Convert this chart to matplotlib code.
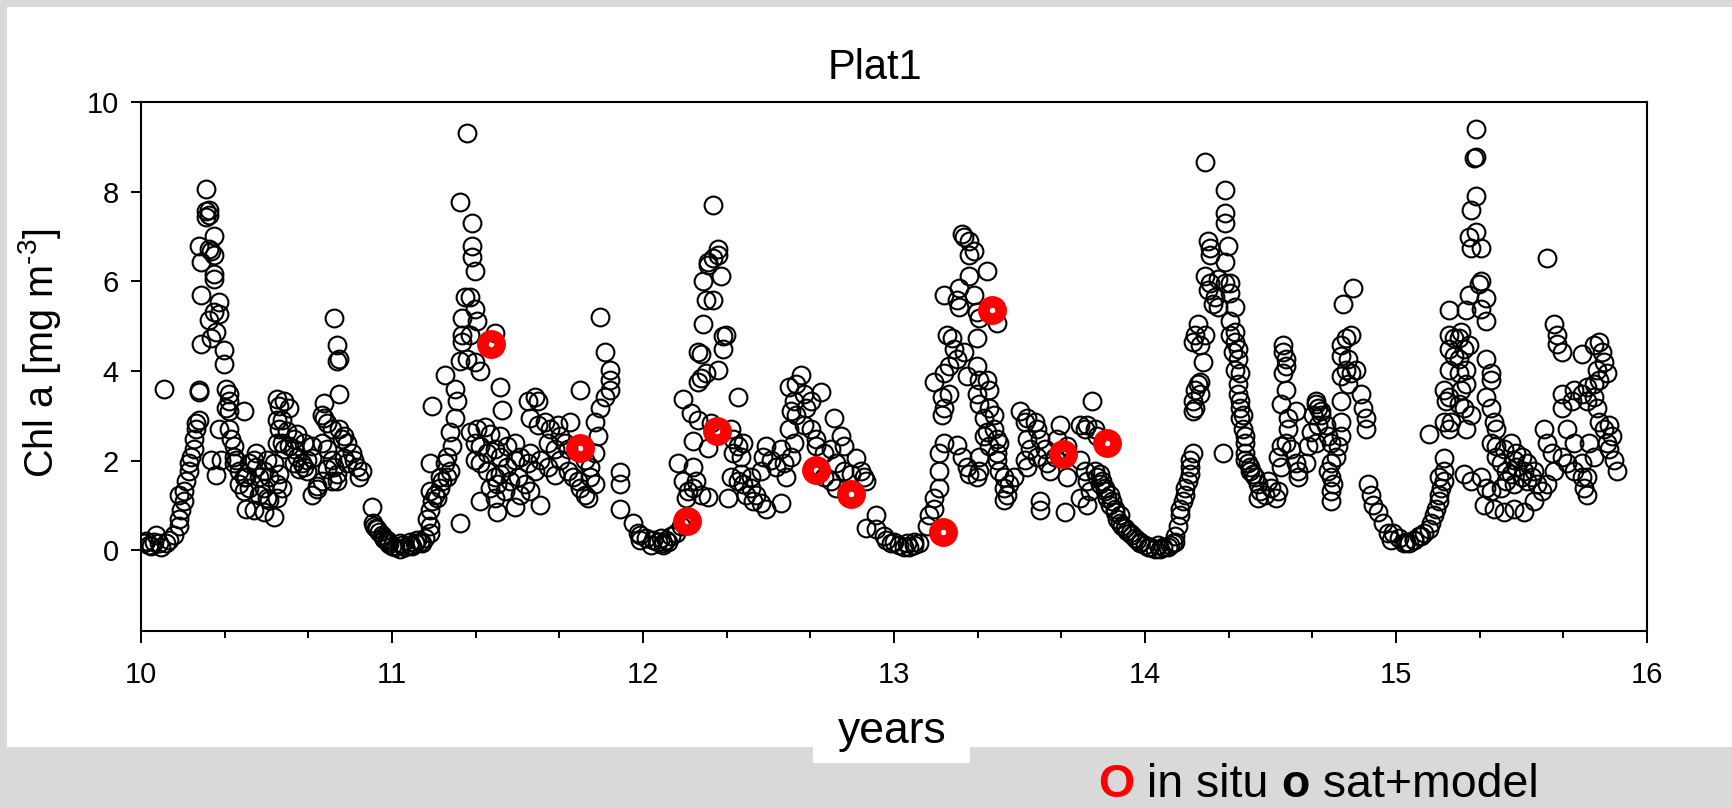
import matplotlib
matplotlib.use('Agg')
import matplotlib.pyplot as plt
from matplotlib.ticker import MultipleLocator, FixedLocator
from matplotlib.patches import Rectangle

plt.rcParams['font.family'] = ['Liberation Sans', 'DejaVu Sans']
plt.rcParams['mathtext.fontset'] = 'custom'
plt.rcParams['mathtext.rm'] = 'Liberation Sans'
plt.rcParams['mathtext.it'] = 'Liberation Sans:italic'
plt.rcParams['mathtext.default'] = 'regular'

# ---------------- data (year, Chl a) ----------------
season10 = [
(10.01,0.16),(10.03,0.12),(10.05,0.19),(10.06,0.35),(10.07,0.16),(10.08,0.08),(10.10,0.16),(10.02,0.20),(10.04,0.10),
(10.09,3.60),
(10.11,0.23),(10.13,0.35),(10.15,0.54),(10.15,0.70),(10.16,0.89),(10.17,1.09),(10.15,1.24),(10.17,1.32),(10.18,1.55),(10.19,1.78),(10.19,1.94),(10.20,2.09),(10.21,2.25),(10.21,2.48),(10.22,2.71),(10.23,2.91),(10.22,2.83),
(10.23,3.53),(10.23,3.57),(10.24,4.61),(10.24,5.70),(10.24,6.43),(10.23,6.78),(10.27,6.71),
(10.26,8.05),(10.26,7.56),(10.27,7.48),(10.27,7.60),(10.26,7.44),(10.29,7.02),(10.28,6.67),(10.29,6.59),(10.29,6.16),(10.29,6.05),(10.31,5.54),(10.29,5.31),(10.31,5.27),(10.27,5.13),(10.30,4.88),(10.28,4.73),(10.33,4.46),(10.33,4.15),
(10.34,3.60),(10.35,3.49),(10.35,3.33),(10.34,3.18),(10.35,3.10),(10.41,3.10),(10.31,2.71),(10.35,2.71),(10.36,2.48),(10.37,2.33),(10.37,2.09),(10.37,1.94),(10.28,2.02),(10.30,1.67),(10.32,2.02),
(10.39,1.78),(10.42,1.63),(10.45,2.02),(10.46,1.86),(10.47,1.63),(10.49,1.40),(10.50,1.16),(10.51,1.63),(10.53,1.94),(10.54,1.47),(10.42,0.93),(10.45,0.89),(10.49,0.85),(10.53,0.74),(10.51,1.12),(10.54,1.16),(10.39,1.47),(10.41,1.32),(10.43,1.40),(10.47,1.24),(10.49,1.78),(10.50,2.02),(10.46,2.17),(10.43,1.94),(10.55,1.71),(10.56,1.40),(10.41,1.63),(10.38,2.02),
(10.54,3.37),(10.55,3.22),(10.57,3.33),(10.59,3.18),(10.54,2.91),(10.56,2.91),(10.55,2.71),(10.58,2.67),(10.61,2.48),(10.62,2.60),(10.56,2.40),(10.54,2.40),(10.59,2.33),(10.57,2.25),(10.62,2.09),(10.64,1.94),(10.61,1.94),(10.65,1.86),(10.66,2.02),(10.63,1.82),(10.61,2.25),(10.65,2.40),(10.68,2.33),(10.68,2.05),(10.66,1.78),
(10.68,1.24),(10.70,1.43),(10.72,1.55),(10.70,1.36),
(10.73,3.29),(10.72,3.02),(10.73,2.95),(10.74,2.83),(10.76,2.71),(10.72,2.40),(10.74,2.25),(10.76,2.02),(10.77,1.86),(10.78,1.71),(10.78,1.55),(10.76,1.55),(10.74,1.82),(10.79,2.71),(10.80,2.48),(10.81,2.56),(10.82,2.40),(10.84,2.17),(10.85,2.02),(10.86,1.86),(10.88,1.78),(10.87,1.63),(10.82,1.94),(10.81,2.05),
(10.77,5.19),(10.78,4.57),(10.78,4.22),(10.79,4.26),(10.79,3.49),
(10.92,0.97),(10.93,0.54),(10.94,0.47),(10.96,0.35),(10.98,0.23),
(10.925,0.60),(10.935,0.50),(10.95,0.40),(10.965,0.30),(10.97,0.25),(10.985,0.18),(10.99,0.14)]

season11 = [
(11.01,0.08),(11.03,0.04),(11.05,0.08),(11.07,0.12),(11.09,0.16),(11.11,0.19),(11.13,0.27),(11.15,0.39),(11.15,0.54),(11.14,0.70),(11.15,0.89),(11.16,1.09),(11.15,1.32),(11.17,1.24),(11.18,1.16),(11.19,1.40),(11.19,1.63),(11.20,1.55),(11.22,1.63),(11.23,1.78),(11.21,1.94),(11.15,1.94),
(11.03,0.16),(11.07,0.19),(11.10,0.23),(11.12,0.16),(11.00,0.10),(11.04,0.12),(11.08,0.10),
(11.27,0.62),(11.16,3.22),(11.21,3.91),(11.25,3.60),(11.26,3.33),(11.25,2.95),(11.23,2.64),(11.24,2.33),(11.22,2.09),
(11.30,9.30),(11.27,7.77),(11.32,7.29),(11.32,6.78),(11.32,6.55),(11.33,6.24),(11.29,5.66),(11.31,5.66),(11.33,5.39),(11.28,5.19),(11.34,5.12),(11.28,4.81),(11.31,4.81),(11.28,4.65),(11.27,4.22),(11.30,4.26),(11.33,4.19),(11.35,3.99),(11.41,4.84),
(11.43,3.64),(11.44,3.14),
(11.31,2.64),(11.34,2.71),(11.37,2.75),(11.39,2.60),(11.43,2.56),(11.33,2.40),(11.35,2.33),(11.38,2.17),(11.41,2.25),(11.43,2.09),(11.46,2.33),(11.49,2.40),(11.33,2.02),(11.35,1.94),(11.38,1.78),(11.41,1.63),(11.43,1.71),(11.46,1.86),(11.49,2.02),(11.51,2.09),(11.54,1.94),(11.55,2.17),(11.57,1.78),(11.39,1.40),(11.42,1.47),(11.45,1.32),(11.47,1.55),(11.50,1.63),(11.53,1.47),(11.55,1.32),(11.35,1.09),(11.42,0.85),(11.49,0.97),(11.59,1.01),(11.51,1.24),(11.41,1.16),
(11.54,3.33),(11.57,3.41),(11.58,3.33),(11.55,2.95),(11.58,2.79),(11.61,2.87),(11.63,2.71),(11.66,2.79),(11.67,2.56),(11.62,2.40),(11.65,2.25),(11.69,2.40),(11.70,2.25),(11.71,2.87),(11.65,1.67),(11.59,2.02),(11.62,1.86),(11.67,2.02),(11.70,1.78),(11.72,1.63),(11.74,1.55),(11.75,1.40),(11.77,1.24),(11.78,1.16),(11.75,3.57),
(11.77,2.02),(11.79,1.86),(11.79,1.63),(11.81,1.47),(11.81,2.17),(11.82,2.56),(11.81,2.87),(11.83,3.18),(11.85,3.41),(11.87,3.57),(11.87,3.80),(11.87,4.03),(11.85,4.42),(11.83,5.21),(11.91,1.74),(11.91,1.47),(11.91,0.93),(11.96,0.62),(11.98,0.39),(11.99,0.23)]

season12 = [
(11.99,0.35),(12.01,0.27),(12.03,0.12),(12.06,0.19),(12.08,0.16),(12.09,0.23),(12.10,0.19),(12.11,0.31),(12.13,0.39),(12.15,0.54),(12.04,0.23),(12.07,0.27),(12.08,0.12),
(12.14,1.94),(12.16,1.55),(12.20,1.86),(12.21,1.55),(12.18,1.32),(12.17,1.16),(12.20,1.40),(12.23,1.24),(12.26,1.20),(12.16,3.37),(12.19,3.06),(12.22,2.91),(12.20,2.44),(12.26,2.29),(12.27,2.83),
(12.22,3.76),(12.23,3.84),(12.25,3.95),(12.23,4.38),(12.22,4.42),(12.24,5.04),(12.25,5.58),(12.28,5.58),(12.24,6.01),(12.26,6.36),(12.28,6.51),(12.30,6.59),(12.30,6.71),(12.28,7.71),(12.26,6.43),(12.31,6.12),(12.32,4.77),(12.33,4.81),(12.32,4.50),(12.30,4.03),(12.38,3.41),
(12.35,2.71),(12.36,2.48),(12.38,2.33),(12.40,2.40),(12.36,2.17),(12.39,2.09),
(12.35,1.63),(12.38,1.55),(12.40,1.47),(12.43,1.40),(12.45,1.24),(12.41,1.24),(12.44,1.09),(12.47,1.05),(12.49,0.93),(12.55,1.05),(12.34,1.16),(12.39,1.71),(12.43,1.63),(12.47,1.78),(12.48,2.09),(12.49,2.33),(12.51,2.02),(12.53,1.86),(12.56,1.94),(12.57,1.63),(12.55,2.25),(12.59,2.09),(12.60,2.40),(12.58,2.71),(12.59,3.10),(12.58,3.64),(12.61,3.72),(12.63,3.91),(12.64,3.49),(12.65,3.18),(12.67,3.33),(12.71,3.53),(12.60,3.33),(12.61,3.02),(12.64,2.79),(12.67,2.71),(12.69,2.48),(12.69,2.33),(12.72,2.17),(12.75,2.25),(12.76,2.95),(12.79,2.56),(12.80,2.33),(12.77,1.94),(12.80,1.78),(12.75,1.55),(12.72,1.63),(12.77,1.40),
(12.85,2.05),(12.87,1.78),(12.89,1.55),(12.88,1.63),(12.83,1.71),
(12.93,0.78),(12.89,0.50),(12.93,0.47),(12.96,0.31),(12.97,0.23),(12.99,0.16)]

season13 = [
(13.00,0.19),(13.02,0.12),(13.04,0.08),(13.06,0.08),(13.08,0.12),(13.10,0.16),(13.08,0.19),(13.05,0.16),
(13.13,0.54),(13.14,0.78),(13.16,0.93),(13.16,1.16),(13.18,1.40),(13.18,1.78),(13.18,2.17),(13.20,2.40),(13.25,2.36),(13.27,2.09),(13.29,1.86),(13.30,1.71),(13.33,1.63),(13.34,1.78),
(13.19,3.02),(13.20,3.18),(13.19,3.41),(13.22,3.49),(13.16,3.76),(13.20,3.95),(13.22,4.11),(13.25,4.26),(13.24,4.50),(13.23,4.73),(13.21,4.81),(13.33,4.73),(13.28,4.42),(13.29,3.88),(13.33,4.11),(13.34,3.80),(13.37,3.80),(13.38,3.57),(13.33,3.49),(13.34,3.26),(13.36,2.95),(13.38,3.18),(13.40,3.02),(13.37,2.64),(13.40,2.71),(13.41,2.48),(13.38,2.33),(13.41,2.02),(13.42,1.78),(13.44,1.63),(13.44,1.40),(13.45,1.24),(13.44,1.12),(13.46,1.47),(13.48,1.63),(13.34,2.09),(13.36,2.56),(13.41,2.17),(13.42,2.40),
(13.27,7.05),(13.28,6.98),(13.30,6.90),(13.30,6.59),(13.32,6.67),(13.30,6.12),(13.37,6.24),(13.26,5.85),(13.32,5.70),(13.20,5.70),(13.26,5.43),(13.33,5.31),(13.34,5.19),(13.25,5.58),(13.41,5.08),
(13.50,3.10),(13.52,2.87),(13.53,2.95),(13.56,2.87),(13.57,2.71),(13.58,2.48),(13.53,2.48),(13.54,2.25),(13.52,2.02),(13.53,1.86),(13.57,2.09),(13.60,2.25),(13.61,1.94),(13.62,1.78),(13.64,2.09),(13.66,2.79),(13.65,2.48),(13.69,2.33),(13.69,1.63),(13.58,1.09),(13.58,0.89),(13.68,0.85),(13.74,2.79),(13.76,2.71),(13.77,2.79),(13.80,2.71),(13.81,2.56),(13.79,3.33),(13.74,2.02),(13.76,1.78),(13.77,1.55),(13.78,1.32),(13.74,1.16),(13.77,1.01),
(13.80,1.78),(13.81,1.63),(13.82,1.47),(13.84,1.32),(13.85,1.16),(13.86,1.01),(13.88,0.85),(13.89,0.70),(13.90,0.62),(13.92,0.50),(13.94,0.39),(13.96,0.27),(13.98,0.19),
(13.82,1.71),(13.83,1.55),(13.84,1.40),(13.86,1.24),(13.87,1.09),(13.88,0.93),(13.90,0.78),(13.91,0.54),(13.93,0.43),(13.95,0.35),(13.97,0.23)]

season14 = [
(13.98,0.16),(14.01,0.08),(14.04,0.04),(14.06,0.04),(14.09,0.08),(14.11,0.16),(14.12,0.31),(14.13,0.54),(14.14,0.78),(14.14,0.93),(14.15,1.09),(14.16,1.24),(14.16,1.40),(14.17,1.55),(14.18,1.71),(14.18,1.86),(14.18,2.02),(14.19,2.17),
(14.00,0.12),(14.02,0.08),(14.05,0.12),(14.07,0.08),(14.10,0.12),(14.12,0.19),
(14.19,3.10),(14.19,3.33),(14.20,3.57),(14.21,3.72),(14.22,3.76),(14.22,3.49),(14.20,3.18),(14.23,4.19),(14.19,4.65),(14.20,4.81),(14.21,5.04),(14.22,4.57),(14.24,4.81),
(14.31,2.17),
(14.24,8.67),(14.32,8.04),(14.32,7.52),(14.32,7.29),(14.33,6.78),(14.25,6.90),(14.26,6.74),(14.26,6.59),(14.32,6.43),(14.24,6.12),(14.26,5.97),(14.29,6.05),(14.32,5.97),(14.34,5.97),(14.28,5.66),(14.29,5.43),(14.27,5.50),(14.25,5.81),(14.34,5.74),(14.36,5.43),(14.34,5.12),(14.34,4.81),(14.36,4.65),(14.35,4.42),(14.37,4.26),(14.36,4.03),(14.37,3.72),(14.37,3.49),(14.38,3.18),(14.38,2.95),(14.39,2.71),(14.40,2.40),(14.40,2.17),(14.41,1.94),(14.42,1.78),(14.44,1.63),(14.45,1.47),(14.46,1.32),(14.45,1.16),(14.48,1.24),(14.50,1.40),(14.52,1.16),(14.49,1.55),(14.53,1.32),
(14.36,4.88),(14.37,4.50),(14.38,3.95),(14.38,3.33),(14.39,3.02),(14.40,2.56),(14.40,2.02),(14.42,1.86),(14.43,1.71),
(14.55,4.57),(14.56,4.26),(14.55,3.95),(14.56,3.57),(14.54,3.26),(14.57,2.95),(14.57,2.71),(14.54,2.33),(14.53,2.09),(14.54,1.86),(14.56,2.40),(14.58,2.25),(14.60,1.94),(14.61,1.78),(14.61,1.63),(14.60,3.10),(14.55,4.42),(14.56,4.11),
(14.64,1.94),(14.65,2.33),(14.66,2.64),(14.67,3.02),(14.68,3.26),(14.69,3.18),(14.70,3.02),(14.72,2.79),(14.73,2.56),(14.74,2.40),(14.69,2.79),(14.68,2.40),(14.68,3.33),(14.70,3.10),
(14.74,1.94),(14.74,1.63),(14.74,1.32),(14.74,1.09),(14.76,2.09),(14.77,2.33),(14.78,2.56),(14.78,2.87),(14.73,1.78),(14.75,1.47),
(14.83,5.85),(14.79,5.50),(14.80,4.73),(14.82,4.81),(14.78,4.57),(14.78,4.34),(14.81,4.26),(14.80,4.03),(14.82,3.95),(14.84,4.03),(14.78,3.88),(14.81,3.72),(14.78,3.33),(14.86,3.49),(14.87,3.18),(14.88,2.95),(14.88,2.71),(14.89,1.47),(14.90,1.24),(14.91,1.01),(14.93,0.85),(14.95,0.62),(14.97,0.39),(14.98,0.23)]

season15 = [
(14.99,0.39),(15.01,0.27),(15.04,0.19),(15.07,0.23),(15.09,0.31),(15.11,0.39),(15.13,0.47),(15.14,0.62),(15.15,0.78),(15.16,0.93),(15.17,1.09),(15.17,1.24),(15.18,1.40),(15.19,1.55),(15.17,1.63),(15.19,1.78),(15.19,2.05),
(15.03,0.16),(15.05,0.16),(15.07,0.23),(15.10,0.31),
(15.13,2.60),(15.19,2.87),(15.21,2.71),(15.22,2.87),(15.20,3.33),(15.25,3.26),(15.27,3.18),(15.30,3.02),(15.28,2.71),
(15.27,1.71),
(15.32,9.40),(15.31,8.76),(15.32,8.78),(15.32,7.91),(15.30,7.60),(15.29,6.98),(15.32,7.09),(15.30,6.74),(15.34,6.74),(15.33,5.93),(15.34,6.01),(15.29,5.70),(15.36,5.62),(15.28,5.35),(15.34,5.39),(15.36,5.12),(15.21,5.35),
(15.21,4.81),(15.23,4.73),(15.25,4.73),(15.26,4.88),(15.21,4.50),(15.23,4.34),(15.25,4.26),(15.27,4.50),(15.29,4.57),(15.21,4.03),(15.25,3.95),(15.28,4.03),(15.28,3.72),(15.19,3.57),(15.21,3.41),(15.26,3.57),
(15.36,4.26),(15.38,3.95),(15.38,3.80),(15.36,3.41),(15.38,3.18),(15.39,2.87),(15.40,2.71),(15.38,2.40),(15.40,2.33),
(15.60,6.51),
(15.40,2.09),(15.42,1.94),(15.44,1.78),(15.47,2.02),(15.50,2.09),(15.52,1.94),(15.55,1.78),(15.50,1.63),(15.52,1.55),(15.47,1.47),(15.44,1.55),(15.42,1.40),(15.38,1.32),(15.35,1.01),(15.39,0.93),(15.43,0.85),(15.47,0.93),(15.51,0.85),(15.55,1.09),(15.58,1.32),(15.60,1.47),(15.30,1.55),(15.34,1.63),(15.36,1.40),(15.46,2.40),(15.48,2.17),(15.43,2.25),(15.51,1.78),(15.54,1.63),(15.48,1.86),(15.46,1.71),(15.56,1.47),
(15.59,2.71),(15.60,2.40),(15.62,2.17),(15.63,1.78),(15.66,2.09),(15.68,1.94),(15.71,1.78),(15.74,1.63),(15.75,1.40),(15.76,1.24),(15.71,2.40),(15.68,2.71),(15.66,3.18),(15.66,3.49),(15.70,3.33),(15.74,3.49),(15.76,3.64),(15.79,3.41),(15.80,3.18),(15.81,2.87),(15.83,2.71),(15.84,2.40),(15.85,2.25),(15.87,2.02),(15.88,1.78),(15.85,2.79),(15.86,2.56),(15.74,1.94),(15.76,1.63),(15.77,2.40),(15.79,2.09),
(15.63,5.04),(15.64,4.81),(15.64,4.61),(15.66,4.42),(15.74,4.38),(15.79,4.57),(15.81,4.65),(15.82,4.42),(15.83,4.19),(15.84,3.95),(15.80,4.03),(15.79,3.72),(15.81,3.80),(15.76,3.33),(15.71,3.57)]

insitu_years = [11.393, 11.75, 12.176, 12.295, 12.69, 12.827, 13.195, 13.39, 13.675, 13.848]
insitu_chl = [4.60, 2.29, 0.66, 2.67, 1.80, 1.26, 0.41, 5.35, 2.15, 2.40]

x_ticks = [10, 11, 12, 13, 14, 15, 16]
y_ticks = [0, 2, 4, 6, 8, 10]
title = 'Plat1'
xlabel = 'years'
ylabel = r'Chl a [mg m$^{\text{-}3}$]'

sat = season10 + season11 + season12 + season13 + season14 + season15
sat_years = [p[0] for p in sat]
sat_chl = [p[1] for p in sat]

# ---------------- figure ----------------
W, H = 1732, 808
fig = plt.figure(figsize=(W / 100, H / 100), dpi=100, facecolor='#d9d9d9')
fig.patches.append(Rectangle((7 / W, 1 - 747 / H), 1.0, (747 - 7) / H,
                             transform=fig.transFigure, facecolor='white',
                             edgecolor='none', zorder=-1))
fig.patches.append(Rectangle((813 / W, 1 - 763 / H), (970 - 813) / W, (763 - 707) / H,
                             transform=fig.transFigure, facecolor='white',
                             edgecolor='none', zorder=1))

ax = fig.add_axes([141 / W, 1 - 631 / H, (1647 - 141) / W, (631 - 102) / H])
ax.plot(sat_years, sat_chl, linestyle='none', marker='o', ms=12.8, mfc='none',
        mec='black', mew=1.5, zorder=2)
ax.plot(insitu_years, insitu_chl, linestyle='none', marker='o', ms=12.5, mfc='none',
        mec='red', mew=8.3, zorder=3)

ax.set_xlim(10, 16)
ax.set_ylim(-1.8, 10)
ax.xaxis.set_major_locator(FixedLocator(x_ticks))
ax.xaxis.set_minor_locator(MultipleLocator(1 / 3))
ax.yaxis.set_major_locator(FixedLocator(y_ticks))
ax.set_xticklabels([str(v) for v in x_ticks])
ax.set_yticklabels([str(v) for v in y_ticks])
ax.tick_params(axis='x', which='major', direction='out', length=8.5, width=1.4,
               labelsize=21, pad=13)
ax.tick_params(axis='x', which='minor', direction='out', length=5, width=1.4)
ax.tick_params(axis='y', which='major', direction='out', length=7, width=1.4,
               labelsize=21, pad=9)
for s in ax.spines.values():
    s.set_linewidth(1.5)

fig.text(875 / W, 1 - 79 / H, title, ha='center', va='baseline', fontsize=30)
fig.text(40 / W, 1 - 353 / H, ylabel, rotation=90, ha='center', va='center', fontsize=28.5)
fig.text(892 / W, 1 - 743 / H, xlabel, ha='center', va='baseline', fontsize=32, zorder=2)

# legend-like caption at the bottom
renderer = fig.canvas.get_renderer()
parts = [('O', 'red', 'bold'), (' in situ', 'black', 'normal'),
         (' o', 'black', 'bold'), (' sat+model', 'black', 'normal')]
xpos = 1098
for txt, col, wt in parts:
    t = fig.text(xpos / W, 1 - 797 / H, txt, color=col, fontweight=wt,
                 fontsize=33.5, ha='left', va='baseline')
    bb = t.get_window_extent(renderer)
    xpos = bb.x1

fig.savefig('out.png', dpi=100, facecolor=fig.get_facecolor())
